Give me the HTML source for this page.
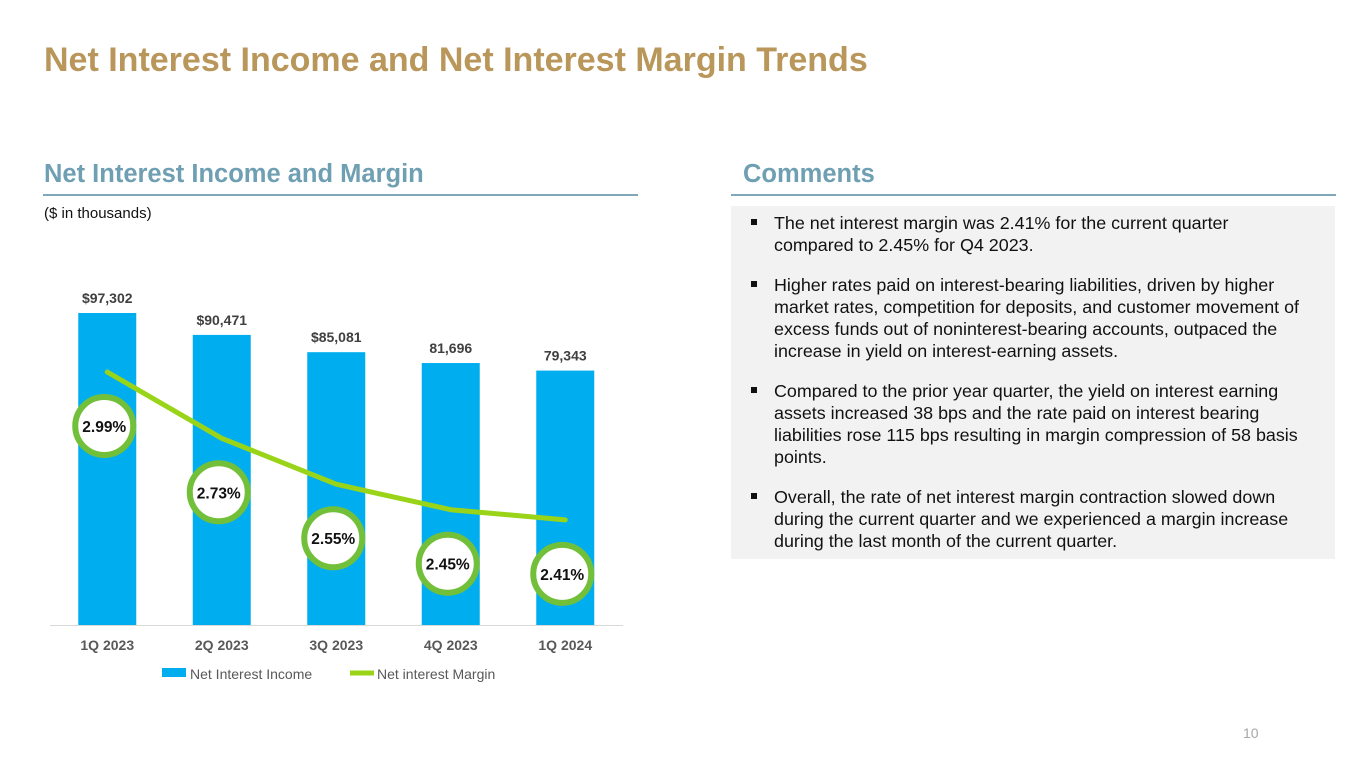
<!DOCTYPE html>
<html><head><meta charset="utf-8"><style>
body{margin:0;width:1365px;height:768px;background:#fff;font-family:"Liberation Sans",Arial,sans-serif;position:relative;overflow:hidden}
.abs{position:absolute}
h1{position:absolute;left:44px;top:41px;margin:0;font-size:34px;font-weight:bold;color:#b9965a}
.sec{position:absolute;top:160px;font-size:25.5px;font-weight:bold;color:#6f9fb2}
.rule{position:absolute;top:194px;height:2px;background:#7fa8b8}
#box{left:731px;top:206px;width:604px;height:353px;background:#f2f2f2}
ul{margin:0;padding:0;list-style:none;position:absolute;left:751px;top:212px;width:572px}
li{position:relative;padding-left:23px;font-size:17.9px;line-height:22px;color:#111;margin-bottom:18px}
li:before{content:"";position:absolute;left:0;top:7px;width:6px;height:6px;background:#111}
</style></head><body>
<h1>Net Interest Income and Net Interest Margin Trends</h1>
<div class="sec" style="left:44px">Net Interest Income and Margin</div>
<div class="sec" style="left:743px">Comments</div>
<div class="rule" style="left:43px;width:595px"></div>
<div class="rule" style="left:731px;width:605px"></div>
<div class="abs" style="left:44px;top:205px;font-size:15px;color:#111">($ in thousands)</div>
<div class="abs" id="box"></div>
<ul>
<li>The net interest margin was 2.41% for the current quarter<br>compared to 2.45% for Q4 2023.</li>
<li>Higher rates paid on interest-bearing liabilities, driven by higher<br>market rates, competition for deposits, and customer movement of<br>excess funds out of noninterest-bearing accounts, outpaced the<br>increase in yield on interest-earning assets.</li>
<li>Compared to the prior year quarter, the yield on interest earning<br>assets increased 38 bps and the rate paid on interest bearing<br>liabilities rose 115 bps resulting in margin compression of 58 basis<br>points.</li>
<li>Overall, the rate of net interest margin contraction slowed down<br>during the current quarter and we experienced a margin increase<br>during the last month of the current quarter.</li>
</ul>
<div class="abs" style="left:1243px;top:725px;font-size:14px;color:#a6a6a6">10</div>
<svg id="chart" class="abs" style="left:0;top:0" width="700" height="768"></svg>
<script>
const categories=["1Q 2023","2Q 2023","3Q 2023","4Q 2023","1Q 2024"];
const incomeValues=[97302,90471,85081,81696,79343];
const incomeLabels=["$97,302","$90,471","$85,081","81,696","79,343"];
const marginValues=[2.99,2.73,2.55,2.45,2.41];
const marginLabels=["2.99%","2.73%","2.55%","2.45%","2.41%"];
const NS="http://www.w3.org/2000/svg";
const svg=document.getElementById('chart');
const base=625,x0=50,step=114.5,barW=58;
function xC(i){return x0+step*i+step/2;}
function yBar(v){return base-v*312/97302;}
function yLine(v){return 372+(2.99-v)*255;}
function mk(t,a,txt){const e=document.createElementNS(NS,t);for(const k in a)e.setAttribute(k,a[k]);if(txt!==undefined)e.textContent=txt;svg.appendChild(e);return e;}
let ax=mk('line',{x1:50,x2:623,y1:base+0.5,y2:base+0.5,stroke:'#d9d9d9','stroke-width':1});


incomeValues.forEach((v,i)=>{
 const y=yBar(v);
 let r=mk('rect',{x:xC(i)-barW/2,y:y,width:barW,height:base-y,fill:'#00aeef'});
 
 
 let t=mk('text',{x:xC(i),y:y-10,'text-anchor':'middle','font-size':14,'font-weight':'bold',fill:'#404040'},incomeLabels[i]);
 
 
 let c=mk('text',{x:xC(i),y:650,'text-anchor':'middle','font-size':14,'font-weight':'bold',fill:'#595959'},categories[i]);
 
 
});
let d=marginValues.map((v,i)=>(i?'L':'M')+xC(i)+' '+yLine(v)).join(' ');
let p=mk('path',{d:d,fill:'none',stroke:'#99d419','stroke-width':5,'stroke-linecap':'round','stroke-linejoin':'round'});


marginValues.forEach((v,i)=>{
 const cx=xC(i)-3,cy=yLine(v)+54;
 let c=mk('circle',{cx:cx,cy:cy,r:29,fill:'#fff',stroke:'#72bf3a','stroke-width':6});
 
 
 let t=mk('text',{x:cx,y:cy+6,'text-anchor':'middle','font-size':15.5,'font-weight':'bold',fill:'#111'},marginLabels[i]);
 
 
});
let l1=mk('rect',{x:162,y:668,width:24,height:9,fill:'#00aeef'});


let lt1=mk('text',{x:190,y:679,'font-size':14,fill:'#595959'},'Net Interest Income');


let l2=mk('line',{x1:350,x2:374,y1:673,y2:673,stroke:'#99d419','stroke-width':5});


let lt2=mk('text',{x:377,y:679,'font-size':14,fill:'#595959'},'Net interest Margin');


</script>
</body></html>
